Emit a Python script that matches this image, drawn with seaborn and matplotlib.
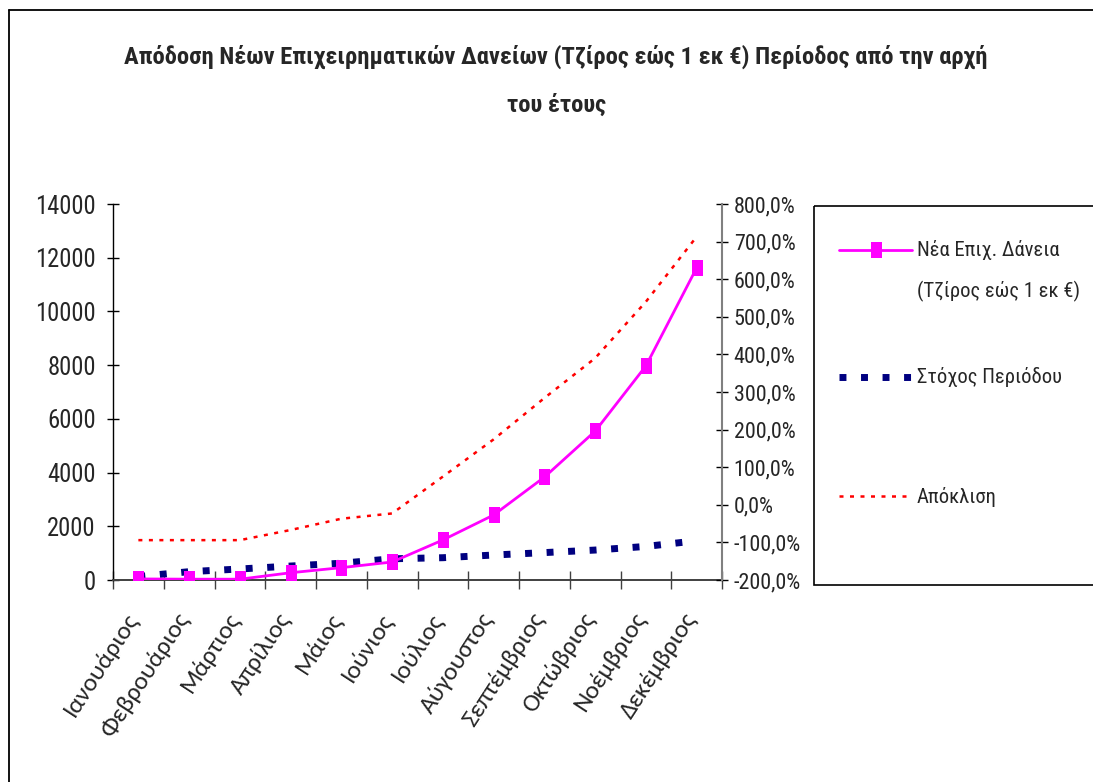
import numpy as np
import pandas as pd
import matplotlib
matplotlib.use("Agg")
import matplotlib.pyplot as plt
from matplotlib import font_manager as fm
from matplotlib.lines import Line2D
from matplotlib.patches import Rectangle
from matplotlib.transforms import Affine2D, ScaledTranslation
import seaborn as sns

# ---- data -------------------------------------------------------------
months = ["Ιανουάριος", "Φεβρουάριος", "Μάρτιος", "Απρίλιος", "Μάιος", "Ιούνιος",
          "Ιούλιος", "Αύγουστος", "Σεπτέμβριος", "Οκτώβριος", "Νοέμβριος", "Δεκέμβριος"]
new_loans = [40, 30, 30, 270, 460, 670, 1490, 2420, 3830, 5540, 7970, 11620]
period_target = [130, 310, 410, 520, 625, 790, 830, 930, 1020, 1115, 1250, 1460]
deviation_pct = [-94, -94, -94, -67, -37, -23, 75, 174, 284, 390, 540, 713]

left_ticks = [0, 2000, 4000, 6000, 8000, 10000, 12000, 14000]
right_ticks = [-200, -100, 0, 100, 200, 300, 400, 500, 600, 700, 800]

label_loans = ["Νέα Επιχ. Δάνεια", "(Τζίρος εώς 1 εκ €)"]
label_target = "Στόχος Περιόδου"
label_dev = "Απόκλιση"
title_lines = ["Απόδοση Νέων Επιχειρηματικών Δανείων (Τζίρος εώς 1 εκ €) Περίοδος από την αρχή",
               "του έτους"]

df = pd.DataFrame({"month": months, "loans": new_loans,
                   "target": period_target, "dev": deviation_pct})

# ---- fonts --------------------------------------------------------------
sns.set_style("white")
installed = {f.name for f in fm.fontManager.ttflist}


def pick(cands, default):
    return next((c for c in cands if c in installed), default)


NARROW = [pick(["Liberation Sans Narrow", "Arial Narrow", "Roboto Condensed",
                "Fira Sans Condensed", "Open Sans Condensed"], "Liberation Sans"),
          "DejaVu Sans"]
HUMANIST = [pick(["Carlito", "Open Sans", "Noto Sans"], "DejaVu Sans"), "DejaVu Sans"]
plt.rcParams["font.family"] = NARROW

W, H = 1093, 782
fig = plt.figure(figsize=(W / 100, H / 100), dpi=100)
fig.patch.set_facecolor("white")
renderer = fig.canvas.get_renderer()
pix = Affine2D().scale(1 / W, -1 / H).translate(0, 1) + fig.transFigure


def fit_size(s, family, width_px, weight="normal", base=20.0):
    """Font size at which string s is width_px pixels wide."""
    t = fig.text(0, 0, s, fontsize=base, family=family, fontweight=weight)
    w = t.get_window_extent(renderer).width
    t.remove()
    return base * width_px / w


fs_title = fit_size(title_lines[0], NARROW, 862, weight="bold")
fs_left = fit_size("14000", NARROW, 61)
fs_right = fit_size("800,0%", NARROW, 62)
fs_legend = fit_size(label_loans[1], NARROW, 163)
fs_month = fit_size("Φεβρουάριος", HUMANIST, 143)

PINK, NAVY, RED = "#FF00FF", "#000080", "#FF0000"
rect_marker = [(-0.36, -0.5), (0.36, -0.5), (0.36, 0.5), (-0.36, 0.5), (-0.36, -0.5)]
navy_ls = (0, (1.0, 2.1))
red_ls = (0, (1.6, 2.6))

ax = fig.add_axes([113 / W, 1 - 580 / H, (722 - 113) / W, (580 - 204) / H])
ax.set_facecolor("white")

sns.lineplot(data=df, x="month", y="target", ax=ax, sort=False, color=NAVY,
             lw=5, linestyle=navy_ls, dash_capstyle="butt", zorder=2)
sns.lineplot(data=df, x="month", y="loans", ax=ax, sort=False, color=PINK,
             lw=2, marker=rect_marker, markersize=11, markeredgewidth=0,
             markerfacecolor=PINK, zorder=3)

ax2 = ax.twinx()
sns.lineplot(data=df, x="month", y="dev", ax=ax2, sort=False, color=RED,
             lw=1.8, linestyle=red_ls, dash_capstyle="butt")

ax.set_xlim(-0.5, len(months) - 0.5)
ax.set_ylim(0, 14000)
ax2.set_ylim(-200, 800)
for a in (ax, ax2):
    a.set_xlabel("")
    a.set_ylabel("")
    a.grid(False)
    if a.get_legend():
        a.get_legend().remove()

# left axis
ax.set_yticks(left_ticks)
ax.set_yticklabels([str(v) for v in left_ticks], fontsize=fs_left, family=NARROW)
ax.tick_params(axis="y", direction="inout", length=9, width=1, color="black",
               left=True, pad=8)

# right axis
ax2.set_yticks(right_ticks)
ax2.set_yticklabels([f"{v:.1f}%".replace(".", ",") for v in right_ticks],
                    fontsize=fs_right, family=NARROW)
ax2.tick_params(axis="y", direction="inout", length=9, width=1, color="black",
                right=True, pad=4)

# category axis: labels at the centres, tick marks at the boundaries
ax.set_xticks(range(len(months)))
ax.set_xticklabels(months, rotation=57, ha="right", va="center",
                   rotation_mode="anchor", fontsize=fs_month, family=HUMANIST)
ax.tick_params(axis="x", which="major", length=0, pad=25)
shift = ScaledTranslation(-5 / 100, 0, fig.dpi_scale_trans)
for lbl in ax.get_xticklabels():
    lbl.set_transform(lbl.get_transform() + shift)
ax.set_xticks(np.arange(-0.5, len(months), 1), minor=True)
ax.tick_params(axis="x", which="minor", direction="inout", length=13,
               width=1, color="#404040", bottom=True)

for a in (ax, ax2):
    a.spines["top"].set_visible(False)
ax.spines["right"].set_visible(False)
ax.spines["left"].set_color("black")
ax.spines["left"].set_linewidth(1)
ax.spines["bottom"].set_color("#404040")
ax.spines["bottom"].set_linewidth(1.4)
ax2.spines["left"].set_visible(False)
ax2.spines["bottom"].set_visible(False)
ax2.spines["right"].set_color("#808080")
ax2.spines["right"].set_linewidth(1.5)

# ---- title ----------------------------------------------------------------
fig.text(556, 57, title_lines[0], transform=pix, ha="center", va="center",
         fontsize=fs_title, fontweight="bold", family=NARROW)
fig.text(557, 105, title_lines[1], transform=pix, ha="center", va="center",
         fontsize=fs_title, fontweight="bold", family=NARROW)

# ---- outer chart border -----------------------------------------------------
fig.add_artist(Line2D([9, 9], [10, H + 5], transform=pix, color="black", lw=1.3))
fig.add_artist(Line2D([9, W + 5], [10, 10], transform=pix, color="black", lw=1.3))

# ---- legend -----------------------------------------------------------------
fig.add_artist(Rectangle((814, 206), 300, 379, transform=pix, fill=False,
                         edgecolor="black", lw=1.2))
lx0, lx1, tx = 839, 912, 917
fig.add_artist(Line2D([lx0, lx1], [250, 250], transform=pix, color=PINK, lw=2))
fig.add_artist(Line2D([(lx0 + lx1) / 2], [250], transform=pix, color=PINK,
                      marker=rect_marker, markersize=11, markeredgewidth=0))
fig.text(tx, 250, label_loans[0], transform=pix, va="center", ha="left",
         fontsize=fs_legend, family=NARROW)
fig.text(tx, 291, label_loans[1], transform=pix, va="center", ha="left",
         fontsize=fs_legend, family=NARROW)

fig.add_artist(Line2D([lx0, lx1], [377, 377], transform=pix, color=NAVY, lw=5,
                      linestyle=navy_ls, dash_capstyle="butt"))
fig.text(tx, 377, label_target, transform=pix, va="center", ha="left",
         fontsize=fs_legend, family=NARROW)

fig.add_artist(Line2D([lx0, 908], [496, 496], transform=pix, color=RED, lw=1.8,
                      linestyle=red_ls, dash_capstyle="butt"))
fig.text(tx, 497, label_dev, transform=pix, va="center", ha="left",
         fontsize=fs_legend, family=NARROW)

fig.savefig("out.png", dpi=100, facecolor="white")
